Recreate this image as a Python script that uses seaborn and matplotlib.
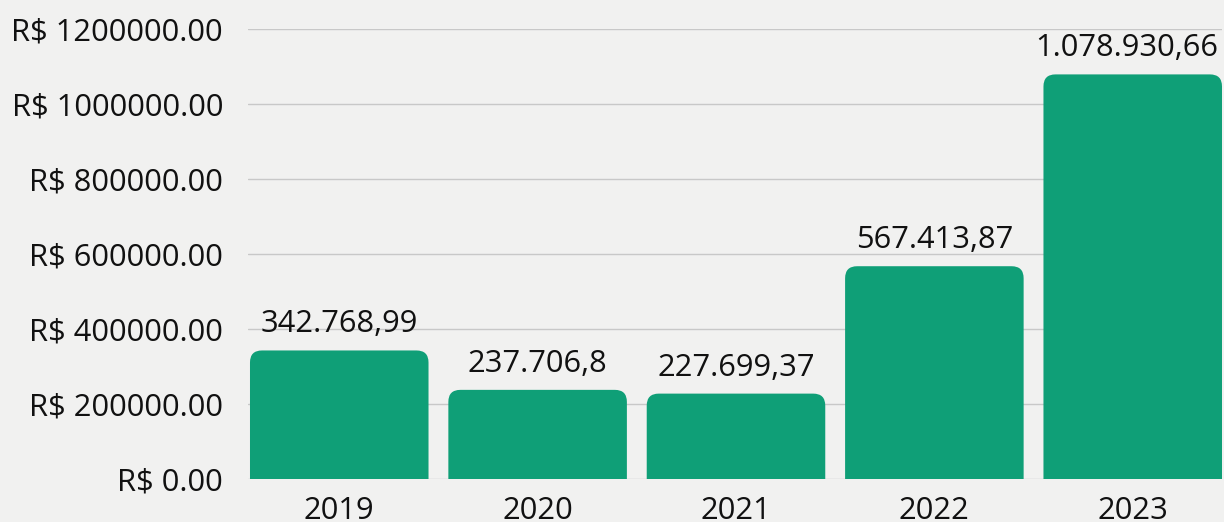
import numpy as np
import pandas as pd
import seaborn as sns
import matplotlib.pyplot as plt
from matplotlib.patches import FancyBboxPatch
from matplotlib.ticker import FuncFormatter

anos = ['2019', '2020', '2021', '2022', '2023']
valores = [342768.99, 237706.80, 227699.37, 567413.87, 1078930.66]

cor_barra = '#0f9f77'
cor_fundo = '#f1f1f0'


def fmt_br(v):
    # 1234.50 -> 1.234,5 (tira zero final como toLocaleString)
    s = '{:,.2f}'.format(v)
    inteiro, dec = s.split('.')
    inteiro = inteiro.replace(',', '.')
    dec = dec.rstrip('0')
    return inteiro + (',' + dec if dec else '')


sns.set_style('white')
plt.rcParams['font.family'] = ['Open Sans', 'DejaVu Sans']
plt.rcParams['text.color'] = '#111111'

df = pd.DataFrame({'ano': anos, 'valor': valores})

fig = plt.figure(figsize=(12.24, 5.22), dpi=100)
fig.patch.set_facecolor(cor_fundo)
ax = fig.add_axes([248 / 1224, 43 / 522, 974 / 1224, 450 / 522])
ax.set_facecolor(cor_fundo)

sns.barplot(data=df, x='ano', y='valor', color=cor_barra, width=0.9,
            saturation=1, ax=ax, zorder=3)

ax.set_xlim(-0.46, 4.45)
ax.set_ylim(0, 1200000)

# cantos arredondados no topo
px_x = 974 / (4.45 + 0.46)
px_y = 450 / 1200000
raio = 12
for p in list(ax.patches):
    x0, w, h = p.get_x(), p.get_width(), p.get_height()
    p.remove()
    rx = raio / px_x
    novo = FancyBboxPatch((x0, -60000), w, h + 60000,
                          boxstyle='round,pad=0,rounding_size=%f' % rx,
                          mutation_aspect=(raio / px_y) / rx,
                          facecolor=cor_barra, edgecolor='none', zorder=3)
    ax.add_patch(novo)
    # o ultimo rotulo encosta na borda direita, desloca um pouco
    dx = -4 if h == max(valores) else 0
    ax.annotate(fmt_br(h), (x0 + w / 2, h), xytext=(dx, 8),
                textcoords='offset points', ha='center', va='bottom',
                fontsize=22.2, color='#111111')

ax.yaxis.set_major_formatter(FuncFormatter(lambda v, p: 'R$ %.2f' % v))
ax.set_yticks(np.arange(0, 1200001, 200000))
ax.grid(axis='y', color='#c8c8c8', linewidth=1, zorder=0)
ax.grid(axis='x', visible=False)
ax.set_axisbelow(True)
ax.tick_params(axis='both', length=0, labelsize=22.2, colors='#111111')
ax.tick_params(axis='y', pad=18)
ax.tick_params(axis='x', pad=12)
ax.set_xlabel('')
ax.set_ylabel('')
sns.despine(ax=ax, left=True, bottom=True)

fig.savefig('out.png', dpi=100, facecolor=cor_fundo)
